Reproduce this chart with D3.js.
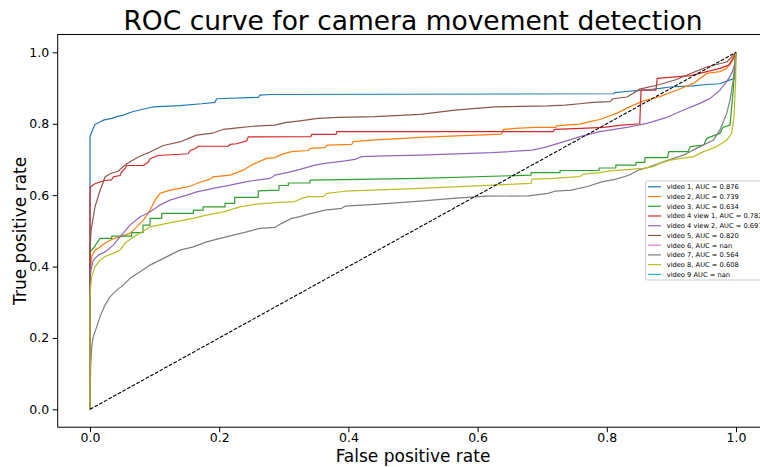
<!DOCTYPE html>
<html>
<head>
<meta charset="utf-8">
<script src="https://cdn.jsdelivr.net/npm/d3@7"></script>
<style>
  html, body { margin: 0; padding: 0; background: #fff; }
  svg { display: block; font-family: "DejaVu Sans", sans-serif; }
</style>
</head>
<body>
<svg id="chart" width="760" height="467"></svg>
<script>
// ROC curves, one [fpr, tpr] list per recording
const video1 = [[0,0],[0,0.763],[0.0026,0.777],[0.0077,0.798],[0.0206,0.81],[0.0336,0.815],[0.0413,0.82],[0.0515,0.824],[0.0645,0.833],[0.08,0.84],[0.0975,0.847],[0.139,0.851],[0.173,0.856],[0.1935,0.86],[0.196,0.87],[0.2605,0.874],[0.263,0.88],[0.279,0.882],[0.81,0.884],[0.8127,0.887],[0.833,0.891],[0.847,0.893],[0.867,0.896],[0.8824,0.899],[0.898,0.903],[0.933,0.906],[0.9546,0.91],[0.975,0.912],[0.9907,0.923],[0.9985,0.926],[1,1]];
const video2 = [[0,0],[0,0.37],[0.001,0.399],[0.0026,0.428],[0.0077,0.446],[0.0155,0.455],[0.0232,0.465],[0.0336,0.476],[0.0464,0.483],[0.0619,0.493],[0.0723,0.511],[0.0826,0.53],[0.0929,0.558],[0.1006,0.586],[0.1084,0.605],[0.1238,0.614],[0.139,0.619],[0.155,0.625],[0.17,0.636],[0.186,0.645],[0.19,0.651],[0.217,0.656],[0.237,0.67],[0.253,0.687],[0.2735,0.703],[0.286,0.705],[0.2977,0.715],[0.3122,0.722],[0.338,0.725],[0.3406,0.731],[0.364,0.733],[0.3664,0.74],[0.405,0.742],[0.4076,0.75],[0.436,0.754],[0.511,0.762],[0.637,0.771],[0.64,0.784],[0.658,0.787],[0.689,0.79],[0.721,0.79],[0.7224,0.794],[0.735,0.796],[0.7585,0.799],[0.774,0.806],[0.789,0.812],[0.815,0.829],[0.836,0.848],[0.857,0.864],[0.882,0.876],[0.908,0.894],[0.934,0.913],[0.9546,0.941],[0.975,0.946],[0.9856,0.955],[0.993,0.978],[1,1]];
const video3 = [[0,0],[0,0.441],[0.0051,0.451],[0.0155,0.479],[0.0336,0.479],[0.0336,0.485],[0.0645,0.485],[0.0645,0.495],[0.082,0.495],[0.082,0.516],[0.0929,0.516],[0.0929,0.535],[0.111,0.535],[0.111,0.549],[0.16,0.549],[0.16,0.558],[0.175,0.558],[0.175,0.567],[0.209,0.567],[0.209,0.577],[0.224,0.577],[0.224,0.594],[0.2605,0.594],[0.2605,0.612],[0.2926,0.614],[0.2926,0.627],[0.307,0.627],[0.307,0.634],[0.3406,0.634],[0.3406,0.642],[0.511,0.647],[0.6827,0.656],[0.6827,0.663],[0.7276,0.663],[0.7276,0.669],[0.788,0.669],[0.788,0.676],[0.814,0.676],[0.814,0.684],[0.845,0.684],[0.845,0.692],[0.859,0.692],[0.859,0.705],[0.894,0.705],[0.896,0.722],[0.926,0.722],[0.929,0.736],[0.95,0.74],[0.9546,0.759],[0.975,0.773],[0.98,0.79],[0.9907,0.796],[0.9933,0.848],[0.9958,0.894],[0.9985,0.978],[1,1]];
const video4view1 = [[0,0],[0,0.6],[0.0005,0.623],[0.0077,0.632],[0.0155,0.637],[0.0232,0.641],[0.0336,0.643],[0.036,0.651],[0.0464,0.655],[0.049,0.665],[0.054,0.674],[0.0568,0.683],[0.0825,0.683],[0.0903,0.693],[0.0929,0.702],[0.1057,0.711],[0.152,0.716],[0.155,0.725],[0.1625,0.73],[0.1676,0.737],[0.214,0.737],[0.2167,0.742],[0.2267,0.744],[0.2426,0.752],[0.245,0.763],[0.342,0.764],[0.343,0.77],[0.381,0.77],[0.382,0.778],[0.717,0.778],[0.719,0.784],[0.76,0.787],[0.795,0.79],[0.823,0.796],[0.851,0.8],[0.853,0.894],[0.876,0.894],[0.878,0.927],[0.93,0.935],[0.975,0.955],[0.99,0.965],[0.9985,0.99],[1,1]];
const video4view2 = [[0,0],[0,0.362],[0.0015,0.39],[0.0051,0.418],[0.0129,0.432],[0.0232,0.441],[0.036,0.46],[0.0464,0.483],[0.0619,0.516],[0.077,0.539],[0.0929,0.553],[0.108,0.572],[0.1238,0.586],[0.15,0.6],[0.1652,0.609],[0.191,0.619],[0.217,0.628],[0.2426,0.638],[0.258,0.642],[0.279,0.647],[0.286,0.656],[0.307,0.664],[0.325,0.672],[0.348,0.684],[0.364,0.689],[0.395,0.696],[0.41,0.7],[0.4206,0.708],[0.4567,0.71],[0.511,0.712],[0.622,0.719],[0.684,0.726],[0.704,0.734],[0.73,0.748],[0.7585,0.764],[0.789,0.778],[0.831,0.79],[0.862,0.801],[0.893,0.818],[0.918,0.838],[0.944,0.857],[0.96,0.871],[0.975,0.894],[0.9856,0.918],[0.9933,0.941],[0.9985,0.969],[1,1]];
const video5 = [[0,0],[0,0.44],[0.0016,0.501],[0.0077,0.567],[0.0155,0.613],[0.0206,0.637],[0.0232,0.651],[0.031,0.66],[0.0433,0.667],[0.0568,0.688],[0.0748,0.707],[0.0929,0.721],[0.1135,0.739],[0.139,0.749],[0.165,0.768],[0.19,0.774],[0.206,0.784],[0.232,0.789],[0.253,0.793],[0.286,0.796],[0.302,0.803],[0.325,0.808],[0.353,0.815],[0.384,0.818],[0.441,0.82],[0.511,0.826],[0.565,0.838],[0.627,0.847],[0.709,0.85],[0.735,0.852],[0.7585,0.856],[0.7786,0.86],[0.805,0.862],[0.8096,0.87],[0.831,0.875],[0.8406,0.885],[0.851,0.897],[0.882,0.91],[0.908,0.924],[0.929,0.94],[0.9546,0.959],[0.97,0.966],[0.9856,0.973],[0.995,0.99],[1,1]];
const video6 = [];
const video7 = [[0,0],[0.001,0.119],[0.0026,0.175],[0.0051,0.203],[0.0103,0.231],[0.0155,0.259],[0.0232,0.292],[0.031,0.315],[0.0413,0.334],[0.0515,0.348],[0.0619,0.367],[0.077,0.385],[0.0929,0.404],[0.1084,0.418],[0.1238,0.432],[0.139,0.446],[0.1599,0.455],[0.1806,0.469],[0.2012,0.479],[0.2218,0.488],[0.2426,0.497],[0.263,0.507],[0.2864,0.51],[0.2967,0.521],[0.312,0.535],[0.325,0.54],[0.338,0.547],[0.3638,0.558],[0.3896,0.563],[0.3947,0.569],[0.4412,0.574],[0.511,0.583],[0.5614,0.591],[0.6125,0.597],[0.6785,0.598],[0.709,0.605],[0.7198,0.611],[0.7454,0.614],[0.7714,0.625],[0.792,0.637],[0.8127,0.644],[0.833,0.655],[0.8488,0.67],[0.864,0.678],[0.8885,0.694],[0.9185,0.712],[0.944,0.736],[0.965,0.754],[0.975,0.782],[0.9856,0.829],[0.9907,0.866],[0.9958,0.922],[1,1]];
const video8 = [[0,0],[0,0.3],[0.001,0.343],[0.0026,0.371],[0.0077,0.399],[0.0155,0.418],[0.0232,0.428],[0.036,0.437],[0.0464,0.446],[0.054,0.465],[0.067,0.483],[0.077,0.493],[0.0929,0.511],[0.1135,0.519],[0.139,0.528],[0.1595,0.535],[0.18,0.544],[0.2067,0.553],[0.2322,0.567],[0.258,0.575],[0.286,0.579],[0.317,0.582],[0.3277,0.591],[0.338,0.596],[0.3612,0.596],[0.3664,0.605],[0.395,0.611],[0.511,0.619],[0.6827,0.633],[0.6842,0.645],[0.7157,0.647],[0.7585,0.652],[0.7637,0.659],[0.789,0.663],[0.805,0.668],[0.836,0.672],[0.8565,0.675],[0.872,0.68],[0.882,0.689],[0.898,0.698],[0.934,0.708],[0.95,0.722],[0.97,0.736],[0.9856,0.754],[0.9933,0.773],[0.9969,0.82],[0.9995,0.922],[1,1]];
const video9 = [];

const seriesNames = ["video 1, AUC = 0.876", "video 2, AUC = 0.739", "video 3, AUC = 0.634",
  "video 4 view 1, AUC = 0.782", "video 4 view 2, AUC = 0.697", "video 5, AUC = 0.820",
  "video 6, AUC = nan", "video 7, AUC = 0.564", "video 8, AUC = 0.608", "video 9 AUC = nan"];
const seriesPoints = [video1, video2, video3, video4view1, video4view2, video5, video6, video7, video8, video9];
const seriesColors = ["#1f77b4", "#ff7f0e", "#2ca02c", "#d62728", "#9467bd",
  "#8c564b", "#e377c2", "#7f7f7f", "#bcbd22", "#17becf"];

const chanceLine = [[0, 0], [1, 1]];
const tickValues = [0, 0.2, 0.4, 0.6, 0.8, 1.0];

const svg = d3.select("#chart");

// axes box (right edge runs past the visible area)
const boxLeft = 57.7, boxRight = 768.3, boxTop = 34.5, boxBottom = 427.2;
const x = d3.scaleLinear().domain([-0.05, 1.05]).range([boxLeft, boxRight]);
const y = d3.scaleLinear().domain([-0.05, 1.05]).range([boxBottom, boxTop]);

const line = d3.line().x(d => x(d[0])).y(d => y(d[1]));

const plot = svg.append("g");

seriesPoints.forEach((pts, i) => {
  if (!pts.length) return;
  plot.append("path")
    .datum(pts)
    .attr("d", line)
    .attr("fill", "none")
    .attr("stroke", seriesColors[i])
    .attr("stroke-width", 1.2)
    .attr("stroke-linejoin", "round");
});

plot.append("path")
  .datum(chanceLine)
  .attr("d", line)
  .attr("fill", "none")
  .attr("stroke", "#000")
  .attr("stroke-width", 1.1)
  .attr("stroke-dasharray", "3.7,1.6");

// frame
svg.append("rect")
  .attr("x", boxLeft).attr("y", boxTop)
  .attr("width", boxRight - boxLeft).attr("height", boxBottom - boxTop)
  .attr("fill", "none").attr("stroke", "#000").attr("stroke-width", 1);

const fmt = d3.format(".1f");
const xAxis = svg.append("g")
  .attr("transform", `translate(0,${boxBottom})`)
  .call(d3.axisBottom(x).tickValues(tickValues).tickFormat(fmt).tickSize(5).tickPadding(1.2));
const yAxis = svg.append("g")
  .attr("transform", `translate(${boxLeft},0)`)
  .call(d3.axisLeft(y).tickValues(tickValues).tickFormat(fmt).tickSize(5).tickPadding(3.5));

[xAxis, yAxis].forEach(g => {
  g.select(".domain").remove();
  g.selectAll(".tick line").attr("stroke", "#000").attr("stroke-width", 1);
  g.selectAll(".tick text")
    .attr("fill", "#000")
    .style("font-family", "DejaVu Sans, sans-serif")
    .style("font-size", "12.5px");
});

// titles
svg.append("text")
  .attr("x", (boxLeft + boxRight) / 2).attr("y", 30)
  .attr("text-anchor", "middle")
  .style("font-size", "26.5px")
  .text("ROC curve for camera movement detection");

svg.append("text")
  .attr("x", (boxLeft + boxRight) / 2).attr("y", 461.5)
  .attr("text-anchor", "middle")
  .style("font-size", "17px")
  .text("False positive rate");

svg.append("text")
  .attr("transform", `translate(26,${(boxTop + boxBottom) / 2}) rotate(-90)`)
  .attr("text-anchor", "middle")
  .style("font-size", "17px")
  .text("True positive rate");

// legend
const legend = svg.append("g").attr("transform", "translate(645.5,181)");
legend.append("rect")
  .attr("width", 140).attr("height", 99).attr("rx", 2)
  .attr("fill", "#fff").attr("fill-opacity", 0.8)
  .attr("stroke", "#cccccc").attr("stroke-width", 1);

const rows = legend.selectAll("g.row")
  .data(seriesNames)
  .join("g")
  .attr("class", "row")
  .attr("transform", (d, i) => `translate(0,${5.8 + i * 9.73})`);

rows.append("line")
  .attr("x1", 2.5).attr("x2", 15.5)
  .attr("stroke", (d, i) => seriesColors[i])
  .attr("stroke-width", 1.2);

rows.append("text")
  .attr("x", 21.2).attr("dy", "0.35em")
  .style("font-size", "6.7px")
  .attr("fill", "#000")
  .text(d => d);
</script>
</body>
</html>
